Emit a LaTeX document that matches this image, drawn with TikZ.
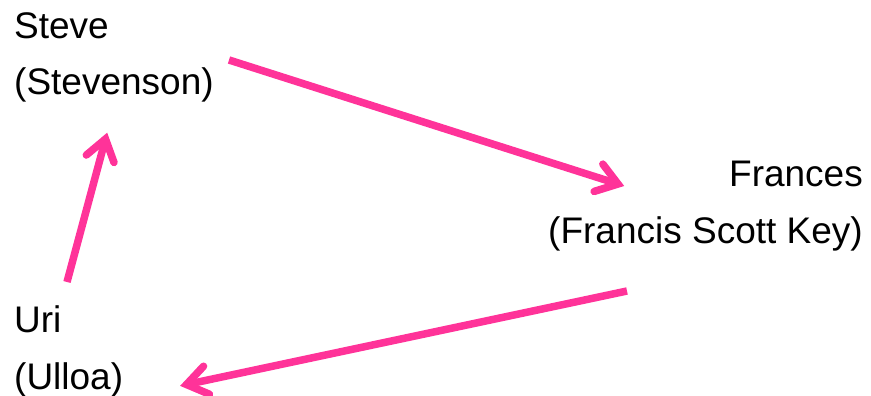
\documentclass[tikz,border=0pt]{standalone}
\usepackage{fontspec}
\setmainfont{Liberation Sans}
\usetikzlibrary{calc}
\definecolor{arrowpink}{HTML}{FF3399}
\tikzset{
  lbl/.style={inner sep=0pt, font=\fontsize{37}{56.5}\selectfont},
  shaft/.style={draw=arrowpink, line width=7.5pt, line cap=butt},
  barb/.style={draw=arrowpink, line width=7.5pt, line cap=round, line join=miter}
}
\newcommand{\pinkarr}[2]{%
  \draw[shaft] (#1) -- (#2);
  \draw[barb] ($(#2)!25pt!35:(#1)$) -- (#2) -- ($(#2)!25pt!-35:(#1)$);
}
\begin{document}
\begin{tikzpicture}[x=1pt,y=-1pt]
\useasboundingbox (0,0) rectangle (871,396);
\node[lbl, anchor=base west, align=left] (steve) at (14,95) {Steve\\(Stevenson)};
\node[lbl, anchor=base east, align=right] (frances) at (863,243) {Frances\\(Francis Scott Key)};
\node[lbl, anchor=base west, align=left] (uri) at (14,389) {Uri\\(Ulloa)};
\coordinate (s1) at (229,60);
\coordinate (t1) at (618,184);
\coordinate (s2) at (627,291);
\coordinate (t2) at (186.5,384.5);
\coordinate (s3) at (67,282);
\coordinate (t3) at (105.5,139);
\pinkarr{s1}{t1}
\pinkarr{s2}{t2}
\pinkarr{s3}{t3}
\end{tikzpicture}
\end{document}
